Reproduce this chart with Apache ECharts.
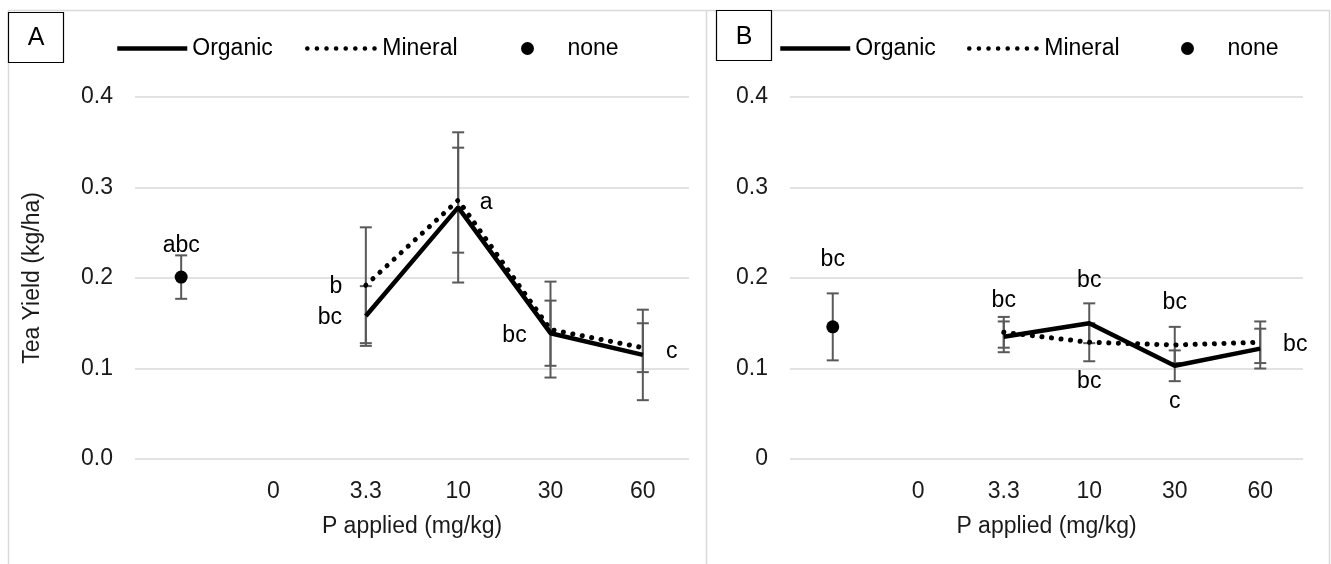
<!DOCTYPE html>
<html>
<head>
<meta charset="utf-8">
<script src="https://cdn.jsdelivr.net/npm/echarts/dist/echarts.min.js"></script>
<style>
  html, body { margin: 0; padding: 0; background: #fff; }
  #chart { width: 1331px; height: 564px; }
</style>
</head>
<body>
<div id="chart"></div>
<script>
// categories (first one is the unlabelled "none" control slot)
var categories = ['', '0', '3.3', '10', '30', '60'];

// panel A
var orgA = [null, null, 0.158, 0.278, 0.139, 0.115];
var orgErrA = [null, null, 0.033, 0.083, 0.036, 0.050];
var minA = [null, null, 0.192, 0.286, 0.143, 0.123];
var minErrA = [null, null, 0.064, 0.058, 0.053, 0.027];
var noneA = [0.201, null, null, null, null, null];
var noneErrA = [0.024, null, null, null, null, null];
var orgLabA = ['', '', 'bc', '', 'bc', 'c'];
var minLabA = ['', '', 'b', 'a', '', ''];
var noneLabA = ['abc', '', '', '', '', ''];

// panel B
var orgB = [null, null, 0.135, 0.150, 0.103, 0.122];
var orgErrB = [null, null, 0.017, 0.022, 0.017, 0.022];
var minB = [null, null, 0.140, 0.129, 0.126, 0.129];
var minErrB = [null, null, 0.017, 0.021, 0.020, 0.023];
var noneB = [0.146, null, null, null, null, null];
var noneErrB = [0.037, null, null, null, null, null];
var orgLabB = ['', '', '', 'bc', 'c', ''];
var minLabB = ['', '', 'bc', 'bc', 'bc', 'bc'];
var noneLabB = ['bc', '', '', '', '', ''];

var yTicks = [0, 0.1, 0.2, 0.3, 0.4];

// label offsets (px from the point), styling only
var offOrgA = [null, null, [-36, 2], null, [-36, 2], [29, -3]];
var offMinA = [null, null, [-30, 1], [28, 2], null, null];
var offNoneA = [[0, -31]];
var offOrgB = [null, null, null, [0, -43], [0, 36], null];
var offMinB = [null, null, [0, -32], [0, 39], [0, -42], [35, 2]];
var offNoneB = [[0, -67]];

var FONT = 'Liberation Sans, Arial, sans-serif';
var FS = 23;
var GRID = '#d9d9d9';
var ERR = '#595959';
var DOTS = [0.1, 9.5];

window.onload = function () {
    var chart = echarts.init(document.getElementById('chart'));

    var series = [];
    add_panel(series, 0, orgA, orgErrA, minA, minErrA, noneA, noneErrA,
        [[orgA, orgLabA, offOrgA], [minA, minLabA, offMinA], [noneA, noneLabA, offNoneA]]);
    add_panel(series, 1, orgB, orgErrB, minB, minErrB, noneB, noneErrB,
        [[orgB, orgLabB, offOrgB], [minB, minLabB, offMinB], [noneB, noneLabB, offNoneB]]);

    var option = {
        animation: false,
        textStyle: { fontFamily: FONT },
        grid: [
            { left: 135, right: 642, top: 97, bottom: 105 },
            { left: 790, right: 28, top: 97, bottom: 105 }
        ],
        xAxis: [make_x(0), make_x(1)],
        yAxis: [make_y(0), make_y(1)],
        legend: [
            make_legend('Organic', 115), make_legend('Mineral', 305), make_legend('none', 521),
            make_legend('Organic', 778), make_legend('Mineral', 967), make_legend('none', 1181)
        ],
        graphic: [
            // panel frames
            { type: 'line', shape: { x1: 8, y1: 10.5, x2: 1330, y2: 10.5 }, style: { stroke: GRID, lineWidth: 1.5 }, silent: true },
            { type: 'line', shape: { x1: 8.5, y1: 10, x2: 8.5, y2: 564 }, style: { stroke: GRID, lineWidth: 1.5 }, silent: true },
            { type: 'line', shape: { x1: 706.5, y1: 10, x2: 706.5, y2: 564 }, style: { stroke: GRID, lineWidth: 1.5 }, silent: true },
            { type: 'line', shape: { x1: 1329.5, y1: 10, x2: 1329.5, y2: 564 }, style: { stroke: GRID, lineWidth: 1.5 }, silent: true },
            // panel letters
            { type: 'rect', shape: { x: 8.5, y: 12.5, width: 55, height: 50 }, style: { fill: '#fff', stroke: '#000', lineWidth: 1.2 }, z: 10 },
            { type: 'text', x: 36, y: 38, z: 11, style: { text: 'A', font: '25px ' + FONT, fill: '#000', align: 'center', verticalAlign: 'middle' } },
            { type: 'rect', shape: { x: 716.5, y: 10.5, width: 55, height: 50 }, style: { fill: '#fff', stroke: '#000', lineWidth: 1.2 }, z: 10 },
            { type: 'text', x: 744, y: 37, z: 11, style: { text: 'B', font: '25px ' + FONT, fill: '#000', align: 'center', verticalAlign: 'middle' } }
        ],
        series: series
    };

    chart.setOption(option);
}

function make_x(i) {
    return {
        type: 'category',
        gridIndex: i,
        data: categories,
        boundaryGap: true,
        axisTick: { show: false },
        axisLine: { show: false },
        axisLabel: { color: '#1a1a1a', fontSize: FS, margin: 21, fontFamily: FONT },
        name: 'P applied (mg/kg)',
        nameLocation: 'middle',
        nameGap: 56,
        nameTextStyle: { color: '#1a1a1a', fontSize: FS, fontFamily: FONT }
    };
}

function make_y(i) {
    var y = {
        type: 'value',
        gridIndex: i,
        min: yTicks[0],
        max: yTicks[yTicks.length - 1],
        interval: 0.1,
        axisLine: { show: false },
        axisTick: { show: false },
        splitLine: { lineStyle: { color: GRID, width: 1.5 } },
        axisLabel: {
            color: '#1a1a1a', fontSize: FS, margin: 22, fontFamily: FONT,
            formatter: function (v) {
                if (i === 1 && v === 0) return '0';
                return v.toFixed(1);
            }
        }
    };
    if (i === 0) {
        y.name = 'Tea Yield (kg/ha)';
        y.nameLocation = 'middle';
        y.nameGap = 91;
        y.nameTextStyle = { color: '#1a1a1a', fontSize: FS, fontFamily: FONT };
    }
    return y;
}

function make_legend(name, left) {
    var lg = {
        data: [name],
        left: left,
        top: 37,
        padding: 0,
        itemWidth: 70,
        itemHeight: 13,
        selectedMode: false,
        textStyle: { color: '#000', fontSize: FS, fontFamily: FONT }
    };
    if (name !== 'none') {
        // line-only key, no marker in the middle
        lg.itemStyle = { color: 'rgba(0,0,0,0)', borderColor: 'rgba(0,0,0,0)', borderWidth: 0 };
        lg.lineStyle = name === 'Mineral'
            ? { color: '#000', width: 4.5, type: DOTS, cap: 'round' }
            : { color: '#000', width: 4.5, type: 'solid' };
    } else {
        lg.itemStyle = { color: '#000', opacity: 1 };
    }
    return lg;
}

function err_data(vals, errs) {
    var out = [];
    for (var i = 0; i < vals.length; i++) {
        if (vals[i] != null) out.push([i, vals[i] - errs[i], vals[i] + errs[i]]);
    }
    return out;
}

function add_panel(series, g, org, orgErr, min, minErr, none, noneErr, labelSets) {
    var errs = err_data(org, orgErr).concat(err_data(min, minErr)).concat(err_data(none, noneErr));
    series.push({
        type: 'custom',
        xAxisIndex: g, yAxisIndex: g,
        z: 1,
        silent: true,
        data: errs,
        renderItem: function (params, api) {
            var lo = api.coord([api.value(0), api.value(1)]);
            var hi = api.coord([api.value(0), api.value(2)]);
            var w = 6;
            var st = { stroke: ERR, lineWidth: 2 };
            return {
                type: 'group',
                children: [
                    { type: 'line', shape: { x1: lo[0], y1: lo[1], x2: hi[0], y2: hi[1] }, style: st },
                    { type: 'line', shape: { x1: lo[0] - w, y1: lo[1], x2: lo[0] + w, y2: lo[1] }, style: st },
                    { type: 'line', shape: { x1: hi[0] - w, y1: hi[1], x2: hi[0] + w, y2: hi[1] }, style: st }
                ]
            };
        }
    });
    series.push({
        name: 'Organic', type: 'line', xAxisIndex: g, yAxisIndex: g, z: 3,
        data: org, symbol: 'none',
        itemStyle: { color: '#000' },
        lineStyle: { color: '#000', width: 4.5 }
    });
    series.push({
        name: 'Mineral', type: 'line', xAxisIndex: g, yAxisIndex: g, z: 3,
        data: min, symbol: 'none',
        itemStyle: { color: '#000' },
        lineStyle: { color: '#000', width: 5, type: DOTS, cap: 'round' }
    });
    series.push({
        name: 'none', type: 'scatter', xAxisIndex: g, yAxisIndex: g, z: 4,
        data: none, symbol: 'circle', symbolSize: 13,
        itemStyle: { color: '#000', opacity: 1 }
    });
    // letter annotations
    labelSets.forEach(function (set) {
        var vals = set[0], texts = set[1], offs = set[2];
        var pts = [], txt = [], off = [];
        for (var i = 0; i < vals.length; i++) {
            if (vals[i] != null && texts[i]) {
                pts.push([i, vals[i]]);
                txt.push(texts[i]);
                off.push(offs[i] || [0, 0]);
            }
        }
        series.push({
            type: 'custom', xAxisIndex: g, yAxisIndex: g, z: 5, silent: true,
            data: pts,
            renderItem: function (params, api) {
                var p = api.coord([api.value(0), api.value(1)]);
                var o = off[params.dataIndex];
                return {
                    type: 'text',
                    x: p[0] + o[0], y: p[1] + o[1],
                    style: {
                        text: txt[params.dataIndex], fill: '#000',
                        font: FS + 'px ' + FONT,
                        align: 'center', verticalAlign: 'middle'
                    }
                };
            }
        });
    });
}
</script>
</body>
</html>
